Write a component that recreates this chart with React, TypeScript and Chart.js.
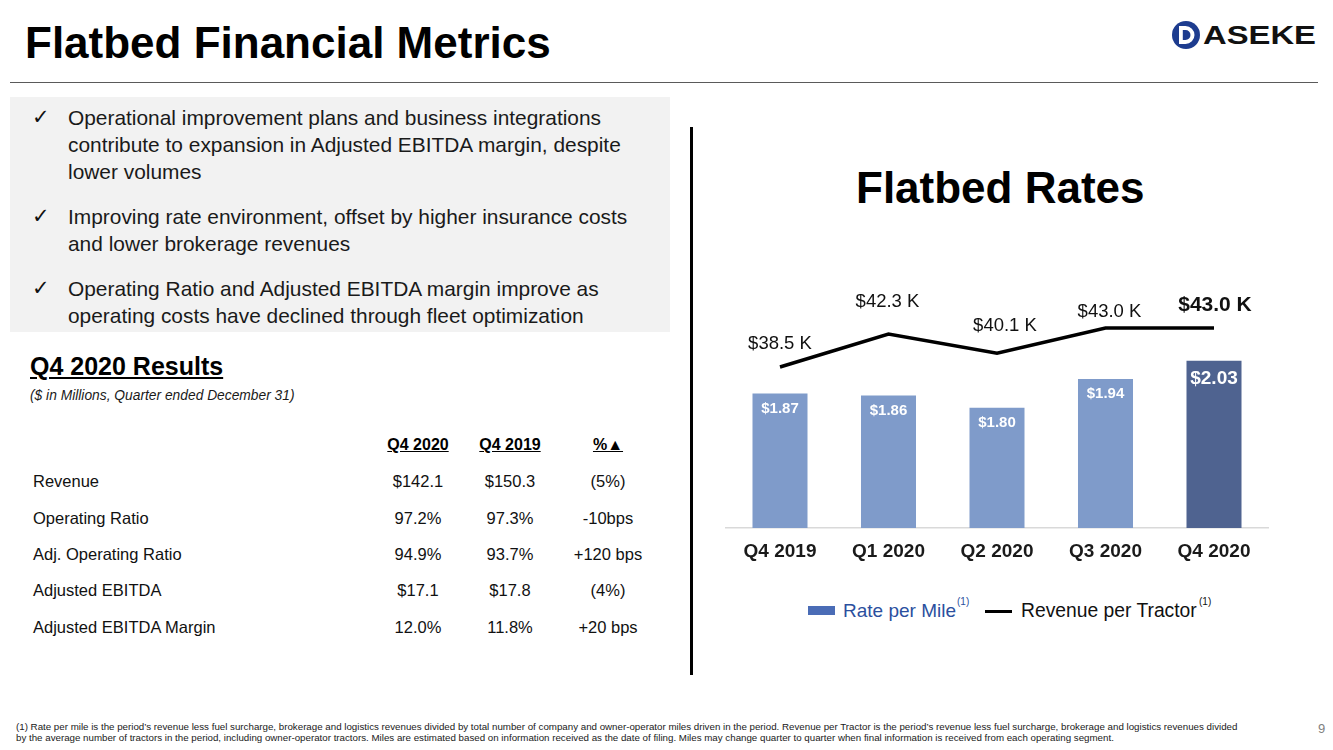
import React, { useEffect, useRef } from "react";
import { Chart, registerables } from "chart.js";

Chart.register(...registerables);

// ---------- data ----------
const categories = ["Q4 2019", "Q1 2020", "Q2 2020", "Q3 2020", "Q4 2020"];
const ratePerMile = [1.87, 1.86, 1.8, 1.94, 2.03];
const revenuePerTractor = [38.5, 42.3, 40.1, 43.0, 43.0];

const tableColumns = ["Q4 2020", "Q4 2019", "%▲"];
const tableRows = [
  "Revenue",
  "Operating Ratio",
  "Adj. Operating Ratio",
  "Adjusted EBITDA",
  "Adjusted EBITDA Margin",
];
const tableQ42020 = ["$142.1", "97.2%", "94.9%", "$17.1", "12.0%"];
const tableQ42019 = ["$150.3", "97.3%", "93.7%", "$17.8", "11.8%"];
const tableChange = ["(5%)", "-10bps", "+120 bps", "(4%)", "+20 bps"];

const bullets = [
  [
    "Operational improvement plans and business integrations",
    "contribute to expansion in Adjusted EBITDA margin, despite",
    "lower volumes",
  ],
  ["Improving rate environment, offset by higher insurance costs", "and lower brokerage revenues"],
  [
    "Operating Ratio and Adjusted EBITDA margin improve as",
    "operating costs have declined through fleet optimization",
  ],
];

const footnote = [
  "(1) Rate per mile is the period’s revenue less fuel surcharge, brokerage and logistics revenues divided by total number of company and owner-operator miles driven in the period. Revenue per Tractor is the period’s revenue less fuel surcharge, brokerage and logistics revenues divided",
  "by the average number of tractors in the period, including owner-operator tractors. Miles are estimated based on information received as the date of filing. Miles may change quarter to quarter when final information is received from each operating segment.",
];

// ---------- styles ----------
const FONT = "'Liberation Sans', Arial, Helvetica, sans-serif";
const LIGHT_BAR = "#7f9bca";
const DARK_BAR = "#4f6390";
const barColors = ratePerMile.map((_, i) => (i === ratePerMile.length - 1 ? DARK_BAR : LIGHT_BAR));
const lineLabelOffsets = [
  [0, -23],
  [-1, -32],
  [8, -27],
  [4, -16],
  [1, -23],
];

const labelPlugin = {
  id: "valueLabels",
  afterDatasetsDraw(chart: any) {
    const ctx = chart.ctx;
    ctx.save();
    ctx.textAlign = "center";
    ctx.textBaseline = "middle";
    chart.data.datasets.forEach((ds: any, di: number) => {
      const meta = chart.getDatasetMeta(di);
      meta.data.forEach((el: any, i: number) => {
        const last = i === ds.data.length - 1;
        const v = ds.data[i] as number;
        if (ds.type === "bar") {
          ctx.fillStyle = "#ffffff";
          ctx.font = `bold ${last ? 19 : 15}px ${FONT}`;
          ctx.fillText(`$${v.toFixed(2)}`, el.x, el.y + (last ? 18 : 15));
        } else {
          ctx.fillStyle = "#111111";
          ctx.font = `${last ? "bold 21px" : "18.5px"} ${FONT}`;
          const [dx, dy] = lineLabelOffsets[i];
          ctx.fillText(`$${v.toFixed(1)} K`, el.x + dx, el.y + dy);
        }
      });
    });
    ctx.restore();
  },
};

function FlatbedChart() {
  const ref = useRef<HTMLCanvasElement | null>(null);
  useEffect(() => {
    if (!ref.current) return;
    const chart = new Chart(ref.current, {
      type: "bar",
      data: {
        labels: categories,
        datasets: [
          {
            type: "line",
            label: "Revenue per Tractor",
            data: revenuePerTractor,
            yAxisID: "y1",
            borderColor: "#000000",
            borderWidth: 3.5,
            pointRadius: 0,
            tension: 0,
            order: 0,
          } as any,
          {
            type: "bar",
            label: "Rate per Mile",
            data: ratePerMile,
            yAxisID: "y",
            backgroundColor: barColors,
            categoryPercentage: 1,
            barPercentage: 0.507,
            order: 1,
          } as any,
        ],
      },
      options: {
        responsive: false,
        maintainAspectRatio: false,
        animation: false,
        layout: { padding: { left: 25.75, right: 21.75, top: 10, bottom: 4 } },
        plugins: { legend: { display: false }, tooltip: { enabled: false } },
        scales: {
          x: {
            grid: { display: false, drawTicks: false },
            border: { display: true, color: "#d9d9d9", width: 1.5 },
            ticks: {
              color: "#1a1a1a",
              padding: 12.6,
              font: { family: FONT, size: 19, weight: "bold" },
            },
          },
          y: { display: false, min: 1.21, max: 2.377 },
          y1: { display: false, min: 19.9, max: 47.4 },
        },
      },
      plugins: [labelPlugin],
    });
    return () => chart.destroy();
  }, []);
  return (
    <canvas
      ref={ref}
      width={590}
      height={300}
      style={{ position: "absolute", left: 700, top: 280, width: 590, height: 300 }}
    />
  );
}

function T({
  x,
  y,
  size,
  lh,
  children,
  style,
}: {
  x: number;
  y: number;
  size: number;
  lh?: number;
  children: any;
  style?: any;
}) {
  const L = lh ?? Math.round(size * 1.2);
  return (
    <div
      style={{
        position: "absolute",
        left: x,
        top: y - L / 2,
        fontSize: size,
        lineHeight: `${L}px`,
        whiteSpace: "nowrap",
        ...style,
      }}
    >
      {children}
    </div>
  );
}

function Logo() {
  return (
    <svg
      width={150}
      height={32}
      style={{ position: "absolute", left: 1170, top: 19 }}
      viewBox="0 0 150 32"
    >
      <circle cx={16} cy={16} r={14} fill="#1d3c8f" />
      <path d="M9 7 h6.5 a9 9 0 0 1 0 18 h-6.5 z" fill="#ffffff" />
      <path d="M12.8 11 h2.7 a5 5 0 0 1 0 10 h-2.7 z" fill="#1d3c8f" />
      <text
        x={33}
        y={25}
        fontFamily={FONT}
        fontWeight="bold"
        fontSize={25}
        fill="#111111"
        textLength={113}
        lengthAdjust="spacingAndGlyphs"
      >
        ASEKE
      </text>
    </svg>
  );
}

export default function App() {
  const colCenters = [418, 510, 608];
  const rowYs = [481, 518, 554, 590, 627];
  const cols = [tableQ42020, tableQ42019, tableChange];
  const bulletStarts = [117, 216, 288];
  return (
    <div
      style={{
        position: "fixed",
        left: 0,
        top: 0,
        width: 1333,
        height: 750,
        background: "#ffffff",
        overflow: "hidden",
        fontFamily: FONT,
        color: "#111111",
      }}
    >
      <T x={25} y={43} size={44} lh={44} style={{ fontWeight: "bold", color: "#000" }}>
        Flatbed Financial Metrics
      </T>
      <Logo />
      <div
        style={{ position: "absolute", left: 10, top: 81.5, width: 1308, height: 1.5, background: "#5a5a5a" }}
      />
      <div
        style={{ position: "absolute", left: 10, top: 97, width: 660, height: 235, background: "#f2f2f2" }}
      />
      {bullets.map((lines, bi) => (
        <React.Fragment key={bi}>
          <T
            x={32}
            y={bulletStarts[bi]}
            size={21}
            lh={27}
            style={{ color: "#111", fontFamily: "'DejaVu Sans', sans-serif" }}
          >
            ✓
          </T>
          {lines.map((ln, li) => (
            <T key={li} x={68} y={bulletStarts[bi] + li * 27} size={20.9} lh={27} style={{ color: "#1a1a1a" }}>
              {ln}
            </T>
          ))}
        </React.Fragment>
      ))}

      <T x={30} y={366} size={25} lh={30} style={{ fontWeight: "bold", textDecoration: "underline", color: "#000" }}>
        Q4 2020 Results
      </T>
      <T x={30} y={396} size={13.8} lh={16} style={{ fontStyle: "italic", color: "#1a1a1a" }}>
        ($ in Millions, Quarter ended December 31)
      </T>
      {tableColumns.map((c, ci) => (
        <T
          key={c}
          x={colCenters[ci] - 60}
          y={445}
          size={16}
          lh={20}
          style={{ width: 120, textAlign: "center", fontWeight: "bold", textDecoration: "underline", color: "#000" }}
        >
          {c}
        </T>
      ))}
      {tableRows.map((r, ri) => (
        <React.Fragment key={r}>
          <T x={33} y={rowYs[ri]} size={16.5} lh={20}>
            {r}
          </T>
          {cols.map((col, ci) => (
            <T
              key={ci}
              x={colCenters[ci] - 60}
              y={rowYs[ri]}
              size={16.5}
              lh={20}
              style={{ width: 120, textAlign: "center" }}
            >
              {col[ri]}
            </T>
          ))}
        </React.Fragment>
      ))}

      <div style={{ position: "absolute", left: 689.5, top: 127, width: 3, height: 548, background: "#000" }} />

      <T x={856} y={188} size={44} lh={44} style={{ fontWeight: "bold", color: "#000" }}>
        Flatbed Rates
      </T>
      <FlatbedChart />

      {/* legend */}
      <div style={{ position: "absolute", left: 808, top: 606, width: 27, height: 9, background: "#4a6cb6" }} />
      <T x={843} y={611} size={19} lh={22} style={{ color: "#2b4f9e" }}>
        Rate per Mile
      </T>
      <T x={957} y={602} size={10} lh={12} style={{ color: "#2b4f9e" }}>
        (1)
      </T>
      <div style={{ position: "absolute", left: 985, top: 609.5, width: 27, height: 3, background: "#000" }} />
      <T x={1021} y={611} size={19.3} lh={22} style={{ color: "#111" }}>
        Revenue per Tractor
      </T>
      <T x={1199} y={602} size={10} lh={12} style={{ color: "#111" }}>
        (1)
      </T>

      {footnote.map((ln, i) => (
        <T key={i} x={16} y={726 + i * 11} size={9.74} lh={11} style={{ color: "#1a1a1a" }}>
          {ln}
        </T>
      ))}
      <T x={1318} y={729} size={13} lh={16} style={{ color: "#808080" }}>
        9
      </T>
    </div>
  );
}
